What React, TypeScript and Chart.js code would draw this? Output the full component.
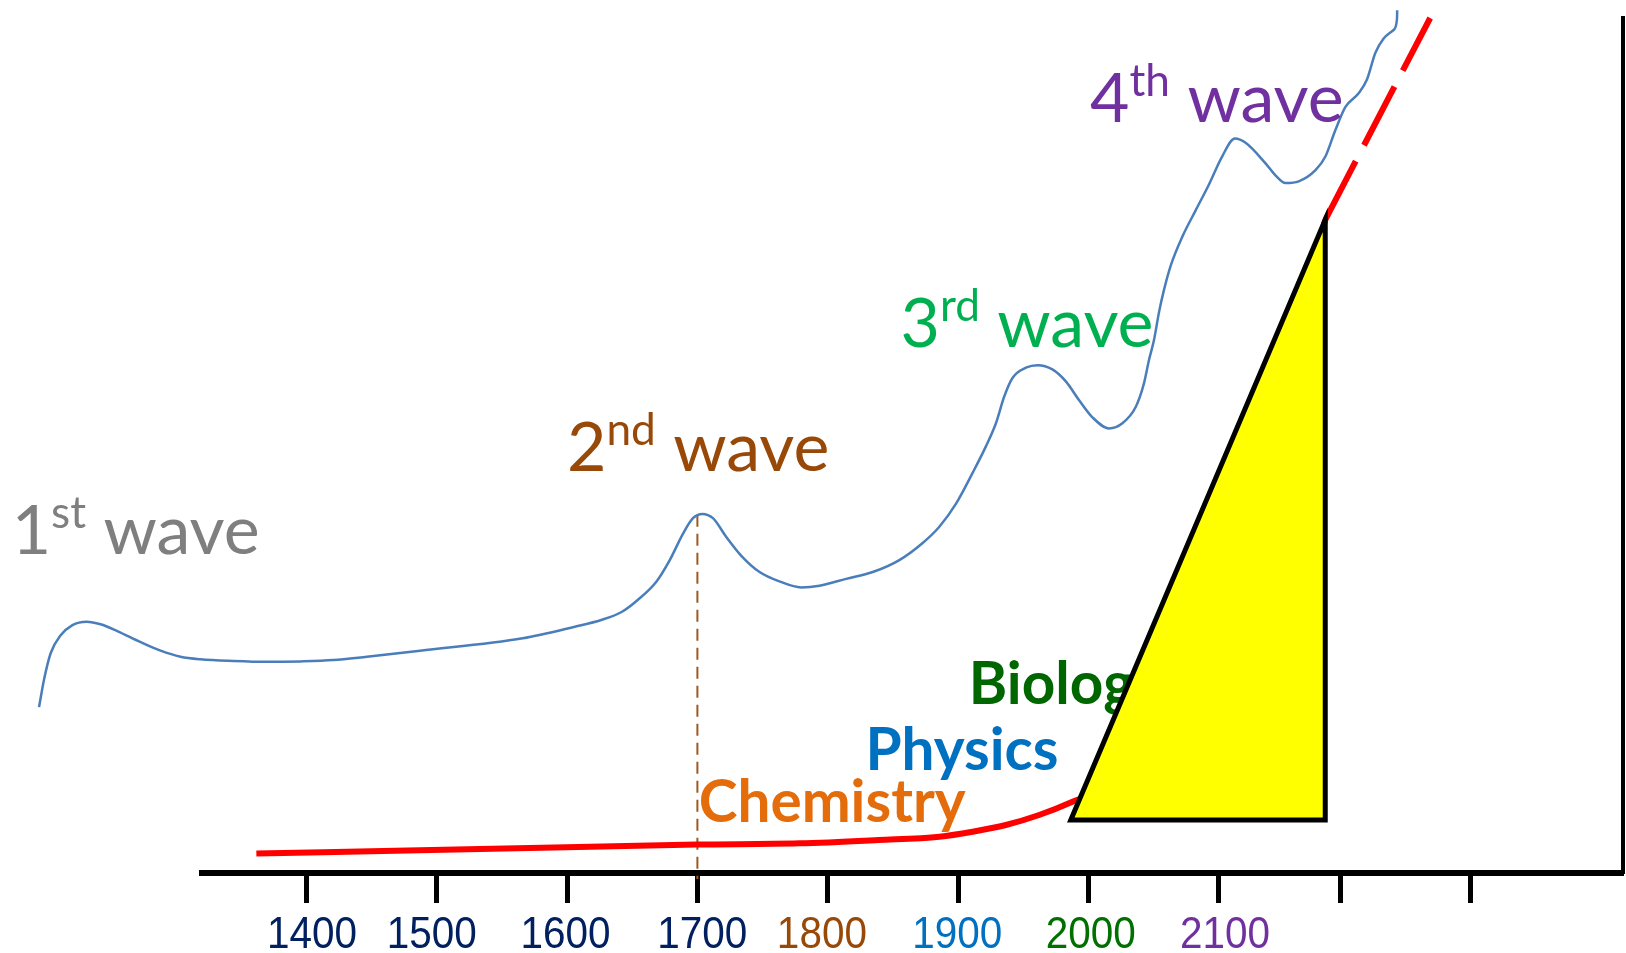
import React, { useEffect, useRef } from 'react';
import { Chart, registerables } from 'chart.js';

Chart.register(...registerables);

// ---- axis ranges & ticks ----
const X_MIN = 1320;
const X_MAX = 2410;
const Y_MIN = 0;
const Y_MAX = 100;
const TICK_YEARS = [1400, 1500, 1600, 1700, 1800, 1900, 2000, 2100, 2193, 2293];
const TICK_LABELS = ['1400', '1500', '1600', '1700', '1800', '1900', '2000', '2100', '', ''];
const TICK_LABEL_YEARS = [1404.4, 1496.2, 1598.8, 1703.7, 1795.5, 1899.3, 2001.7, 2104.7, 2193, 2293];
const TICK_COLORS = ['#002060', '#002060', '#002060', '#002060', '#984807', '#0070C0', '#007000', '#7030A0', '#000000', '#000000'];

// ---- blue "waves" curve ----
const BLUE_YEARS = [1195.0, 1198.8, 1203.9, 1211.6, 1220.6, 1231.5, 1242.2, 1255.0, 1272.9, 1288.2, 1303.5, 1318.8, 1344.1, 1369.9, 1395.4, 1420.7, 1446.5, 1487.3, 1566.1, 1606.1, 1626.2, 1642.2, 1654.2, 1668.5, 1678.8, 1689.0, 1696.6, 1703.8, 1711.9, 1722.2, 1733.7, 1747.7, 1763.0, 1779.6, 1793.7, 1814.1, 1834.5, 1854.9, 1872.8, 1885.6, 1898.4, 1911.1, 1921.3, 1929.0, 1935.3, 1941.7, 1952.0, 1960.9, 1972.3, 1982.6, 1992.8, 2003.0, 2015.8, 2026.0, 2036.2, 2042.6, 2046.4, 2050.2, 2054.1, 2057.9, 2063.2, 2071.9, 2082.2, 2092.3, 2102.5, 2112.3, 2120.5, 2135.8, 2143.4, 2151.1, 2161.3, 2174.1, 2181.7, 2189.4, 2197.1, 2207.2, 2213.6, 2220.0, 2226.4, 2234.0, 2236.6, 2236.8];
const BLUE_LEVELS = [19.4, 22.6, 25.7, 27.8, 29.0, 29.4, 29.1, 28.3, 27.0, 26.0, 25.3, 25.0, 24.8, 24.7, 24.75, 24.9, 25.3, 26.0, 27.45, 28.81, 29.59, 30.56, 31.93, 34.07, 36.6, 39.7, 41.5, 42.0, 41.5, 39.3, 37.1, 35.2, 34.1, 33.4, 33.6, 34.4, 35.2, 36.6, 38.6, 40.5, 43.2, 46.8, 49.9, 52.6, 55.7, 57.9, 59.1, 59.4, 58.9, 57.5, 55.3, 53.3, 52.0, 52.6, 54.5, 57.3, 60.0, 62.3, 65.6, 68.2, 71.1, 74.4, 77.5, 80.5, 83.8, 85.9, 85.4, 83.0, 81.6, 80.7, 80.9, 82.2, 83.8, 86.9, 89.6, 91.2, 92.8, 95.9, 97.6, 98.6, 99.8, 100.9];

// ---- red growth curve ----
const RED_YEARS = [1361.7, 1533.3, 1699.5, 1778.3, 1838.8, 1885.6, 1911.1, 1936.6, 1962.1, 1987.7, 2010.0, 2100.0, 2181.6];
const RED_LEVELS = [2.28, 2.81, 3.33, 3.47, 3.86, 4.25, 4.83, 5.61, 6.78, 8.34, 10.0, 30.0, 76.4];
const RED_DASH_YEARS = [2181.6, 2262.1];
const RED_DASH_LEVELS = [76.4, 100.0];

// ---- yellow triangle ----
const TRI_YEARS = [2084.0, 2181.6, 2181.6, 1986.4, 2084.0];
const TRI_LEVELS = [6.2, 6.2, 76.4, 6.2, 6.2];

// ---- dashed marker at 1700 ----
const MARK_YEARS = [1700, 1700];
const MARK_LEVELS = [41.9, -0.7];

// ---- text labels ----
const WAVE_NUMS = ['1', '2', '3', '4'];
const WAVE_SUPS = ['st', 'nd', 'rd', 'th'];
const WAVE_YEARS = [1174.0, 1600.0, 1855.8, 2001.2];
const WAVE_LEVELS = [37.3, 47.05, 61.56, 87.87];
const WAVE_COLORS = ['#7F7F7F', '#984807', '#00B050', '#7030A0'];

const FIELD_NAMES = ['Chemistry', 'Physics', 'Biology'];
const FIELD_YEARS = [1701.0, 1828.9, 1908.2];
const FIELD_LEVELS = [6.0, 12.05, 19.8];
const FIELD_COLORS = ['#E46C0A', '#0070C0', '#006600'];

const pts = (xs: number[], ys: number[]) => xs.map((x, i) => ({ x, y: ys[i] }));

type Part = { text: string; sup?: boolean };

function drawParts(ctx: CanvasRenderingContext2D, x: number, y: number, parts: Part[], color: string, size: number, weight: string) {
  let cx = x;
  ctx.fillStyle = color;
  ctx.textAlign = 'left';
  ctx.textBaseline = 'alphabetic';
  for (const p of parts) {
    const fs = p.sup ? size * 0.65 : size;
    ctx.font = `${weight} ${fs}px Lato, "Open Sans", sans-serif`;
    ctx.fillText(p.text, cx, p.sup ? y - size * 0.38 : y);
    cx += ctx.measureText(p.text).width;
  }
}

const WAVE_SIZE = 68;
const FIELD_SIZE = 58.5;

const textPlugin = {
  id: 'textLabels',
  beforeDatasetsDraw(chart: any) {
    const { ctx, scales } = chart;
    ctx.save();
    const i = 2; // Biology sits under the triangle
    drawParts(ctx, scales.x.getPixelForValue(FIELD_YEARS[i]), scales.y.getPixelForValue(FIELD_LEVELS[i]), [{ text: FIELD_NAMES[i] }], FIELD_COLORS[i], FIELD_SIZE, 'bold');
    ctx.restore();
  },
  afterDatasetsDraw(chart: any) {
    const { ctx, scales } = chart;
    ctx.save();
    for (let i = 0; i < 2; i++) {
      drawParts(ctx, scales.x.getPixelForValue(FIELD_YEARS[i]), scales.y.getPixelForValue(FIELD_LEVELS[i]), [{ text: FIELD_NAMES[i] }], FIELD_COLORS[i], FIELD_SIZE, 'bold');
    }
    for (let i = 0; i < WAVE_NUMS.length; i++) {
      drawParts(
        ctx,
        scales.x.getPixelForValue(WAVE_YEARS[i]),
        scales.y.getPixelForValue(WAVE_LEVELS[i]),
        [{ text: WAVE_NUMS[i] }, { text: WAVE_SUPS[i], sup: true }, { text: ' wave' }],
        WAVE_COLORS[i],
        WAVE_SIZE,
        'normal'
      );
    }
    ctx.restore();
  },
  afterDraw(chart: any) {
    // tick labels below the axis (slightly condensed, as in the original)
    const { ctx, scales } = chart;
    const xs = scales.x;
    ctx.save();
    ctx.font = '44px "Liberation Sans", Arial, sans-serif';
    ctx.textAlign = 'center';
    ctx.textBaseline = 'alphabetic';
    const baseY = xs.top + 75;
    TICK_LABEL_YEARS.forEach((v, i) => {
      if (!TICK_LABELS[i]) return;
      const px = xs.getPixelForValue(v);
      ctx.save();
      ctx.translate(px, baseY);
      ctx.scale(0.92, 1);
      ctx.fillStyle = TICK_COLORS[i];
      ctx.fillText(TICK_LABELS[i], 0, 0);
      ctx.restore();
    });
    ctx.restore();
  },
};

export default function App() {
  const ref = useRef<HTMLCanvasElement | null>(null);

  useEffect(() => {
    if (!ref.current) return;
    const chart = new Chart(ref.current, {
      type: 'line',
      data: {
        datasets: [
          {
            data: pts(BLUE_YEARS, BLUE_LEVELS),
            borderColor: '#4A7EBB',
            borderWidth: 2.5,
            cubicInterpolationMode: 'monotone',
            pointRadius: 0,
            fill: false,
            clip: false,
          },
          {
            data: pts(TRI_YEARS, TRI_LEVELS),
            borderColor: '#000000',
            backgroundColor: '#FFFF00',
            borderWidth: 5,
            borderJoinStyle: 'miter',
            tension: 0,
            pointRadius: 0,
            fill: 'shape',
            clip: false,
          },
          {
            data: pts(RED_DASH_YEARS, RED_DASH_LEVELS),
            borderColor: '#FF0000',
            borderWidth: 6,
            borderDash: [66, 18],
            tension: 0,
            pointRadius: 0,
            fill: false,
            clip: false,
          },
          {
            data: pts(RED_YEARS, RED_LEVELS),
            borderColor: '#FF0000',
            borderWidth: 6,
            cubicInterpolationMode: 'monotone',
            pointRadius: 0,
            fill: false,
            clip: false,
          },
          {
            data: pts(MARK_YEARS, MARK_LEVELS),
            borderColor: '#9C5A1E',
            borderWidth: 2,
            borderDash: [12, 7],
            tension: 0,
            pointRadius: 0,
            fill: false,
            clip: false,
          },
        ] as any,
      },
      options: {
        responsive: false,
        maintainAspectRatio: false,
        animation: false,
        devicePixelRatio: 1,
        layout: { padding: { left: 202, right: 2, top: 18, bottom: 0 } },
        plugins: { legend: { display: false }, tooltip: { enabled: false } },
        scales: {
          x: {
            type: 'linear',
            bounds: 'data',
            afterBuildTicks: (scale: any) => {
              scale.ticks = TICK_YEARS.map((v) => ({ value: v }));
              scale.min = X_MIN;
              scale.max = X_MAX;
            },
            afterFit: (scale: any) => {
              scale.height = 80;
            },
            grid: { display: true, drawOnChartArea: false, drawTicks: true, tickLength: 30, tickWidth: 5, tickColor: '#000000' },
            border: { display: true, color: '#000000', width: 6 },
            ticks: { display: false },
          },
          y: {
            type: 'linear',
            position: 'right',
            min: Y_MIN,
            max: Y_MAX,
            ticks: { display: false },
            grid: { display: false, drawTicks: false },
            border: { display: true, color: '#000000', width: 4 },
          },
        },
      } as any,
      plugins: [textPlugin],
    });
    (document as any).fonts?.ready?.then(() => chart.update());
    return () => chart.destroy();
  }, []);

  return (
    <div style={{ position: 'absolute', left: 0, top: 0, width: 1626, height: 953, background: '#fff' }}>
      <canvas ref={ref} width={1626} height={953} style={{ display: 'block' }} />
    </div>
  );
}
